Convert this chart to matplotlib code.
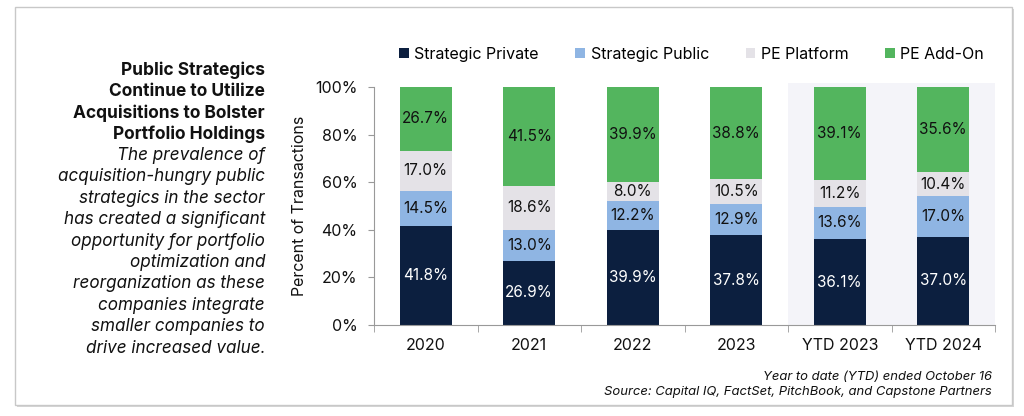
import numpy as np
import matplotlib
matplotlib.use("Agg")
import matplotlib.pyplot as plt
from matplotlib.patches import Rectangle

plt.rcParams["font.family"] = ["Inter", "DejaVu Sans"]

categories = ["2020", "2021", "2022", "2023", "YTD 2023", "YTD 2024"]
series = ["Strategic Private", "Strategic Public", "PE Platform", "PE Add-On"]
strategic_private = [41.8, 26.9, 39.9, 37.8, 36.1, 37.0]
strategic_public = [14.5, 13.0, 12.2, 12.9, 13.6, 17.0]
pe_platform = [17.0, 18.6, 8.0, 10.5, 11.2, 10.4]
pe_addon = [26.7, 41.5, 39.9, 38.8, 39.1, 35.6]

COLORS = ["#0C1F3F", "#8FB5E3", "#E4E2E7", "#53B55E"]
TXT = ["white", "#111111", "#111111", "#111111"]
INK = "#111111"

fig = plt.figure(figsize=(10.24, 4.16), dpi=100)
W, H = 1024, 416

def fx(px): return px / W
def fy(py): return 1 - py / H

# outer frame with a light shadow
fig.patches.append(Rectangle((fx(17), fy(407)), fx(997), 398 / H,
                             transform=fig.transFigure, facecolor="#d6d6d6", edgecolor="none", zorder=0))
fig.patches.append(Rectangle((fx(15), fy(405)), fx(997), 398 / H,
                             transform=fig.transFigure, facecolor="white", edgecolor="#c8c8c8", lw=1, zorder=0))

ax = fig.add_axes([fx(374), fy(325), fx(995 - 374), (325 - 87) / H])
ax.set_zorder(3)
x = np.arange(len(categories))
data = [strategic_private, strategic_public, pe_platform, pe_addon]
bottom = np.zeros(len(categories))
handles = []
for vals, col, tc, name in zip(data, COLORS, TXT, series):
    vals = np.array(vals)
    b = ax.bar(x, vals, 0.5, bottom=bottom, color=col, label=name, zorder=2)
    handles.append(b)
    for xi, v, bt in zip(x, vals, bottom):
        ax.text(xi, bt + v / 2, f"{v:.1f}%", ha="center", va="center", color=tc, fontsize=11, zorder=3)
    bottom += vals

ax.axvspan(3.5, 5.5, ymax=1.015, color="#F4F4F9", zorder=0, lw=0, clip_on=False)
ax.set_xlim(-0.5, 5.5)
ax.set_ylim(0, 100)
ax.set_yticks(range(0, 101, 20))
ax.set_yticklabels([f"{t}%" for t in range(0, 101, 20)], fontsize=11.5, color=INK)
ax.set_xticks(x)
ax.set_xticklabels(categories, fontsize=11.5, color=INK)
ax.tick_params(axis="x", length=0, pad=9)
ax.tick_params(axis="y", length=4, color="#999999", pad=8)
ax.set_xticks(np.arange(-0.5, 6, 1), minor=True)
ax.tick_params(axis="x", which="minor", length=5, color="#999999")
for s in ["top", "right"]:
    ax.spines[s].set_visible(False)
ax.spines["left"].set_color("#999999")
ax.spines["bottom"].set_color("#999999")
ax.patch.set_alpha(0)
ax.set_ylabel("Percent of Transactions", fontsize=11.5, color=INK, labelpad=6)

ax.legend(handles=handles, labels=series, loc="lower left", bbox_to_anchor=(0.03, 1.08),
          ncol=4, frameon=False, fontsize=11.5, handlelength=0.6, handleheight=0.6,
          handletextpad=0.35, columnspacing=2.3, borderaxespad=0)

title = ["Public Strategics", "Continue to Utilize", "Acquisitions to Bolster", "Portfolio Holdings"]
body = ["The prevalence of", "acquisition-hungry public", "strategics in the sector",
        "has created a significant", "opportunity for portfolio", "optimization and",
        "reorganization as these", "companies integrate", "smaller companies to",
        "drive increased value."]
y0 = 70
for i, line in enumerate(title):
    fig.text(fx(265), fy(y0 + i * 21.4), line, ha="right", va="center", fontsize=12.5,
             fontweight="bold", color=INK)
for i, line in enumerate(body):
    fig.text(fx(265), fy(y0 + (len(title) + i) * 21.4), line, ha="right", va="center",
             fontsize=12.3, style="italic", color=INK)

fig.text(fx(992), fy(377), "Year to date (YTD) ended October 16", ha="right", va="center",
         fontsize=9.4, style="italic", color=INK)
fig.text(fx(992), fy(392), "Source: Capital IQ, FactSet, PitchBook, and Capstone Partners",
         ha="right", va="center", fontsize=9.4, style="italic", color=INK)

fig.savefig("out.png", dpi=100, facecolor="white")
